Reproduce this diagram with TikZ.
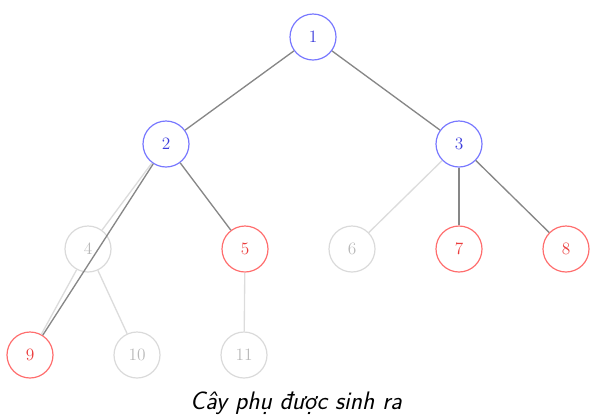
\documentclass[tikz,border=0pt]{standalone}
\usepackage{fontspec}
\begin{document}
\begin{tikzpicture}[x=0.75pt,y=-0.75pt,
  nd/.style={circle,draw,minimum size=34.5pt,inner sep=0pt,line width=0.9pt,font=\fontsize{13}{15}\selectfont},
  bl/.style={nd,draw={rgb,255:red,120;green,120;blue,255},text={rgb,255:red,60;green,60;blue,220}},
  rd/.style={nd,draw={rgb,255:red,255;green,110;blue,110},text={rgb,255:red,235;green,60;blue,60}},
  gy/.style={nd,draw={rgb,255:red,218;green,218;blue,218},text={rgb,255:red,185;green,185;blue,185}},
  de/.style={draw={rgb,255:red,135;green,135;blue,135},line width=1pt},
  le/.style={draw={rgb,255:red,220;green,220;blue,220},line width=1pt}]
\useasboundingbox (0,0) rectangle (592,419);
\node[bl] (n1) at (313,37) {1};
\node[bl] (n2) at (166,144) {2};
\node[bl] (n3) at (459,144) {3};
\node[gy] (n4) at (88,249) {4};
\node[rd] (n5) at (245,249) {5};
\node[gy] (n6) at (352,249) {6};
\node[rd] (n7) at (459,249) {7};
\node[rd] (n8) at (566,249) {8};
\node[rd] (n9) at (30,355) {9};
\node[gy] (n10) at (137,355) {10};
\node[gy] (n11) at (244,355) {11};
\draw[le] (n2) -- (n4);
\draw[le] (n4) -- (n9);
\draw[le] (n4) -- (n10);
\draw[le] (n5) -- (n11);
\draw[le] (n3) -- (n6);
\draw[de] (n1) -- (n2);
\draw[de] (n1) -- (n3);
\draw[de] (n2) -- (n5);
\draw[de] (n2) -- (n9);
\draw[de] (n3) -- (n7);
\draw[de] (n3) -- (n8);
\node[font=\fontsize{19}{22}\selectfont\sffamily\itshape] (cap) at (296,403) {Cây phụ được sinh ra};
\end{tikzpicture}
\end{document}
